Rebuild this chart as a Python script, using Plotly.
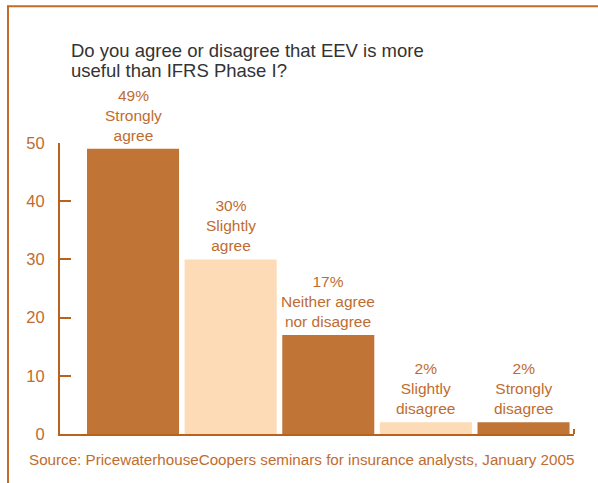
import plotly.graph_objects as go

categories = ["Strongly agree", "Slightly agree", "Neither agree nor disagree",
              "Slightly disagree", "Strongly disagree"]
values = [49, 30, 17, 2, 2]
label_lines = [["49%", "Strongly", "agree"],
               ["30%", "Slightly", "agree"],
               ["17%", "Neither agree", "nor disagree"],
               ["2%", "Slightly", "disagree"],
               ["2%", "Strongly", "disagree"]]
y_ticks = [0, 10, 20, 30, 40, 50]
title_lines = ["Do you agree or disagree that EEV is more", "useful than IFRS Phase I?"]
source_text = "Source: PricewaterhouseCoopers seminars for insurance analysts, January 2005"

DARK = "#c07436"
LIGHT = "#fddbb6"
ORANGE_TEXT = "#c06c30"
AXIS = "#b8621c"
FRAME = "#c46a2c"
FONT = "Liberation Sans, Arial, sans-serif"

W, H = 598, 483
ML, MR, MT, MB = 60, 24, 142.5, 49
PW = W - ML - MR
PH = H - MT - MB


def px_x(px):
    return (px - ML) / PW


def px_y(py):
    return (H - MB - py) / PH


bar_colors = [DARK if i % 2 == 0 else LIGHT for i in range(len(values))]
xs = list(range(len(categories)))

fig = go.Figure(go.Bar(x=xs, y=values, marker_color=bar_colors,
                       marker_line_width=0, hoverinfo="skip"))

annotations = []
for i, (v, lines) in enumerate(zip(values, label_lines)):
    annotations.append(dict(x=i, y=v, xref="x", yref="y", text="<br>".join(lines),
                            showarrow=False, xanchor="center", yanchor="bottom",
                            yshift=3, font=dict(family=FONT, size=15.5, color=ORANGE_TEXT)))

title_baselines = [57, 77]
for line, base in zip(title_lines, title_baselines):
    annotations.append(dict(x=px_x(69), y=px_y(base + 5.5), xref="paper", yref="paper",
                            text=line, showarrow=False, xanchor="left", yanchor="bottom",
                            font=dict(family=FONT, size=18.5, color="#333333")))

annotations.append(dict(x=px_x(27), y=px_y(465 + 5), xref="paper", yref="paper",
                        text=source_text, showarrow=False, xanchor="left", yanchor="bottom",
                        font=dict(family=FONT, size=15.2, color=ORANGE_TEXT)))

shapes = [
    dict(type="line", xref="paper", yref="paper", x0=px_x(8), x1=px_x(8),
         y0=px_y(5), y1=px_y(H + 5), line=dict(color=FRAME, width=2)),
    dict(type="line", xref="paper", yref="paper", x0=px_x(7), x1=px_x(W + 5),
         y0=px_y(5.5), y1=px_y(5.5), line=dict(color=FRAME, width=2)),
    dict(type="line", xref="paper", yref="paper", x0=1, x1=1,
         y0=0, y1=px_y(429), line=dict(color=AXIS, width=2)),
]

fig.update_layout(
    width=W, height=H,
    margin=dict(l=ML, r=MR, t=MT, b=MB, pad=0),
    paper_bgcolor="white", plot_bgcolor="white",
    showlegend=False, bargap=0.057,
    font=dict(family=FONT),
    annotations=annotations, shapes=shapes,
    xaxis=dict(range=[-0.748, 4.517], showticklabels=False, ticks="",
               showgrid=False, zeroline=False, showline=True,
               linecolor=AXIS, linewidth=2, fixedrange=True),
    yaxis=dict(range=[0, 50], tickvals=y_ticks, ticks="inside", ticklen=11,
               tickwidth=2, tickcolor=AXIS, showgrid=False, zeroline=False,
               showline=True, linecolor=AXIS, linewidth=2,
               ticklabelstandoff=10,
               tickfont=dict(family=FONT, size=16.5, color=ORANGE_TEXT), fixedrange=True),
)

fig.write_html("out.html", config={"displayModeBar": False})
